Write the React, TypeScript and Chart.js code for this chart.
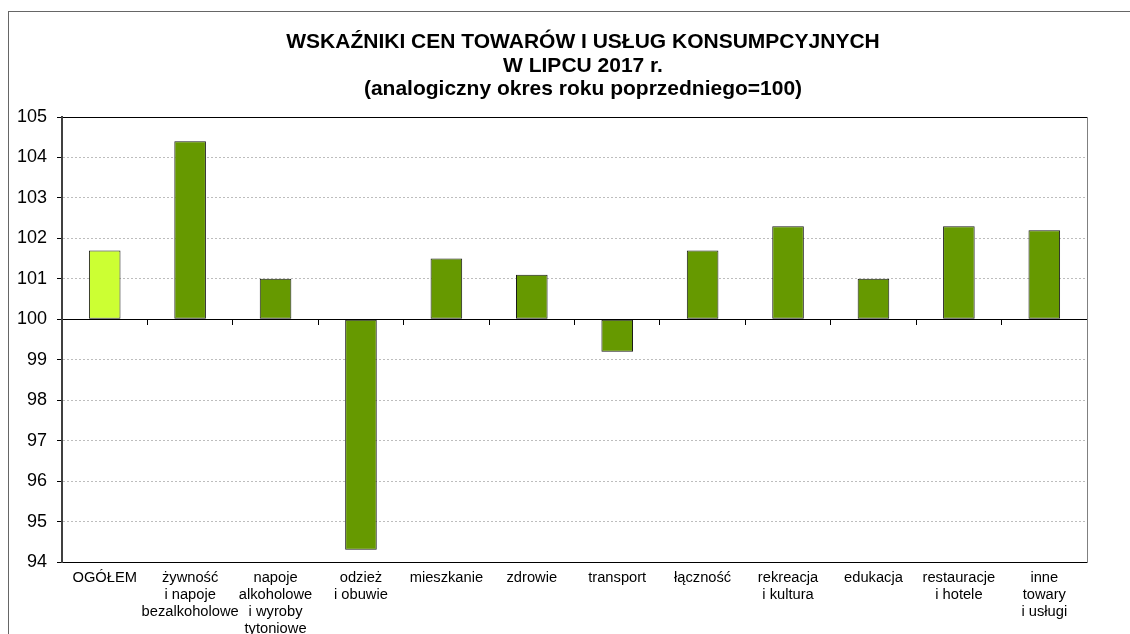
import React, { useEffect, useRef } from "react";
import { Chart, registerables } from "chart.js";

Chart.register(...registerables);

const TITLE_LINES = [
  "WSKAŹNIKI CEN TOWARÓW I USŁUG KONSUMPCYJNYCH",
  "W LIPCU 2017 r.",
  "(analogiczny okres roku poprzedniego=100)",
];

const CATEGORIES: (string | string[])[] = [
  "OGÓŁEM",
  ["żywność", "i napoje", "bezalkoholowe"],
  ["napoje", "alkoholowe", "i wyroby", "tytoniowe"],
  ["odzież", "i obuwie"],
  "mieszkanie",
  "zdrowie",
  "transport",
  "łączność",
  ["rekreacja", "i kultura"],
  "edukacja",
  ["restauracje", "i hotele"],
  ["inne", "towary", "i usługi"],
];

const VALUES = [101.7, 104.4, 101.0, 94.3, 101.5, 101.1, 99.2, 101.7, 102.3, 101.0, 102.3, 102.2];

const Y_MIN = 94;
const Y_MAX = 105;
const BASE_VALUE = 100;

const FONT = "'Liberation Sans', Arial, Helvetica, sans-serif";

const titlePlugin = {
  id: "customTitle",
  afterDraw(chart: any) {
    const ctx = chart.ctx;
    ctx.save();
    ctx.font = `bold 21px ${FONT}`;
    ctx.fillStyle = "#000";
    ctx.textAlign = "center";
    ctx.textBaseline = "alphabetic";
    const baselines = [48, 71.5, 95];
    TITLE_LINES.forEach((t, i) => ctx.fillText(t, 583, baselines[i]));
    ctx.restore();
  },
};

export default function App() {
  const ref = useRef<HTMLCanvasElement | null>(null);

  useEffect(() => {
    if (!ref.current) return;
    const chart = new Chart(ref.current, {
      type: "bar",
      data: {
        labels: CATEGORIES,
        datasets: [
          {
            data: VALUES,
            base: BASE_VALUE,
            backgroundColor: (c: any) => (c.dataIndex === 0 ? "#CCFF33" : "#669900"),
            borderColor: "#1a1a1a",
            borderWidth: 1,
            borderSkipped: false,
            categoryPercentage: 1,
            barPercentage: 0.37,
          } as any,
        ],
      },
      options: {
        responsive: false,
        animation: false,
        layout: { padding: { top: 117, left: 0, right: 43, bottom: 0 } },
        plugins: {
          legend: { display: false },
          title: { display: false },
          tooltip: { enabled: false },
        },
        scales: {
          x: {
            type: "category",
            position: "bottom",
            offset: true,
            grid: { display: false, drawTicks: false, offset: true },
            border: { display: true, color: "#000", width: 1 },
            ticks: {
              autoSkip: false,
              maxRotation: 0,
              minRotation: 0,
              padding: 7,
              color: "#000",
              font: { family: FONT, size: 14.7, lineHeight: 1.16 },
            },
            afterFit: (s: any) => {
              s.height = 72;
            },
          },
          x2: {
            type: "category",
            axis: "x",
            position: { y: BASE_VALUE },
            offset: true,
            grid: {
              display: true,
              drawOnChartArea: false,
              drawTicks: true,
              tickLength: 5,
              offset: true,
              color: "#000",
              tickColor: "#000",
            },
            border: { display: true, color: "#000", width: 1 },
            ticks: { display: false },
          } as any,
          y: {
            type: "linear",
            position: "left",
            min: Y_MIN,
            max: Y_MAX,
            ticks: {
              stepSize: 1,
              padding: 10,
              color: "#000",
              font: { family: FONT, size: 18 },
            },
            grid: {
              color: (c: any) => {
                const v = c.tick?.value;
                if (v === Y_MAX || v === BASE_VALUE || v === Y_MIN) return "#000";
                return "#bdbdbd";
              },
              tickColor: "#000",
              tickLength: 5,
              lineWidth: 1,
            },
            border: {
              display: true,
              color: "#404040",
              width: 2,
              dash: (c: any) => {
                const v = c.tick?.value;
                if (v === Y_MAX || v === BASE_VALUE || v === Y_MIN) return [];
                return [2, 2];
              },
            } as any,
            afterFit: (s: any) => {
              s.width = 62;
            },
          },
          y2: {
            type: "linear",
            position: "right",
            min: Y_MIN,
            max: Y_MAX,
            ticks: { display: false },
            grid: { drawOnChartArea: false, drawTicks: false },
            border: { display: true, color: "#808080", width: 1 },
            afterFit: (s: any) => {
              s.width = 0;
            },
          },
        },
      },
      plugins: [titlePlugin],
    });
    return () => chart.destroy();
  }, []);

  return (
    <div
      style={{
        position: "absolute",
        left: 0,
        top: 0,
        width: 1130,
        height: 634,
        overflow: "hidden",
        background: "#fff",
      }}
    >
      <div
        style={{
          position: "absolute",
          left: 8,
          top: 11,
          width: 1200,
          height: 700,
          borderTop: "1px solid #666",
          borderLeft: "1px solid #666",
        }}
      />
      <canvas
        ref={ref}
        width={1130}
        height={634}
        style={{ position: "absolute", left: 0, top: 0, width: 1130, height: 634 }}
      />
    </div>
  );
}
